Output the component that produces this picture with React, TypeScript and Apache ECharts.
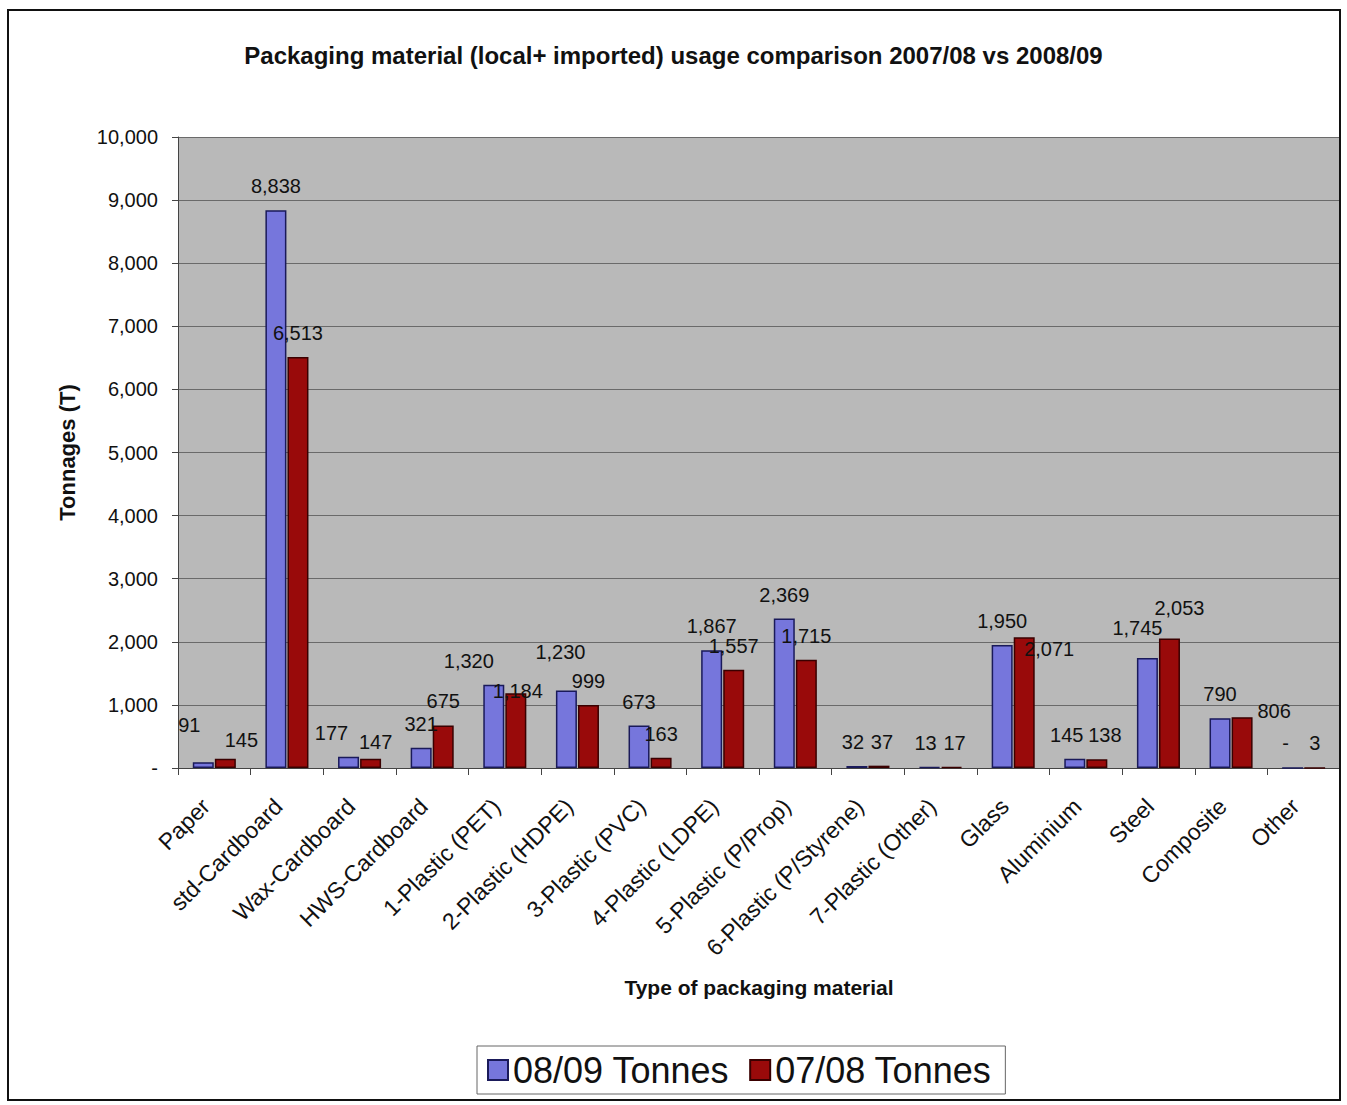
import React, { useEffect, useRef } from "react";
import * as echarts from "echarts";

const categories = [
  "Paper", "std-Cardboard", "Wax-Cardboard", "HWS-Cardboard", "1-Plastic (PET)",
  "2-Plastic (HDPE)", "3-Plastic (PVC)", "4-Plastic (LDPE)", "5-Plastic (P/Prop)",
  "6-Plastic (P/Styrene)", "7-Plastic (Other)", "Glass", "Aluminium", "Steel",
  "Composite", "Other",
];
const tonnes0809 = [91, 8838, 177, 321, 1320, 1230, 673, 1867, 2369, 32, 13, 1950, 145, 1745, 790, 0];
const tonnes0708 = [145, 6513, 147, 675, 1184, 999, 163, 1557, 1715, 37, 17, 2071, 138, 2053, 806, 3];
const seriesNames = ["08/09 Tonnes", "07/08 Tonnes"];

// label nudges (dx, dy) by category, mimicking the manually placed labels of the original
const nudge0809: Record<string, [number, number]> = {
  "Paper": [-14, -13],
  "Wax-Cardboard": [-17, 0],
  "1-Plastic (PET)": [-25, 0],
  "2-Plastic (HDPE)": [-6, -14],
  "6-Plastic (P/Styrene)": [-4, 0],
  "7-Plastic (Other)": [-4, 0],
  "Aluminium": [-8, 0],
  "Steel": [-10, -6],
  "Other": [-7, 0],
};
const nudge0708: Record<string, [number, number]> = {
  "Paper": [16, 5],
  "Wax-Cardboard": [5, 7],
  "1-Plastic (PET)": [2, 22],
  "6-Plastic (P/Styrene)": [3, 0],
  "7-Plastic (Other)": [3, 0],
  "Glass": [25, 36],
  "Aluminium": [8, 0],
  "Steel": [10, -6],
  "Composite": [32, 18],
};

const fmt = (v: number) => (v === 0 ? "-" : v.toLocaleString("en-US"));

export default function App() {
  const ref = useRef<HTMLDivElement>(null);
  useEffect(() => {
    const chart = echarts.init(ref.current!, null, { renderer: "svg" });
    const font = "Liberation Sans, Arial, sans-serif";
    const labelStyle = {
      show: true,
      position: "top",
      distance: 14,
      fontSize: 20,
      color: "#111",
      fontFamily: font,
      formatter: (p: any) => fmt(p.value),
    };
    const layoutFor = (nudges: Record<string, [number, number]>) => (p: any) => {
      const n = nudges[categories[p.dataIndex]];
      return n ? { dx: n[0], dy: n[1] } : {};
    };
    chart.setOption({
      animation: false,
      backgroundColor: "#ffffff",
      textStyle: { fontFamily: font },
      title: {
        text: "Packaging material (local+ imported) usage comparison 2007/08 vs 2008/09",
        left: "center",
        top: 38,
        textStyle: { fontSize: 24, fontWeight: "bold", color: "#111", fontFamily: font },
      },
      graphic: [
        {
          type: "rect",
          shape: { x: 8, y: 10, width: 1332, height: 1090 },
          style: { fill: "none", stroke: "#111", lineWidth: 2 },
          silent: true,
          z: 100,
        },
      ],
      legend: {
        top: 1046,
        left: 477,
        icon: "rect",
        itemWidth: 20,
        itemHeight: 20,
        itemGap: 20,
        padding: [6, 14, 6, 10],
        borderColor: "#666",
        borderWidth: 1,
        backgroundColor: "#fff",
        textStyle: { fontSize: 36, color: "#111", fontFamily: font },
        data: seriesNames,
      },
      grid: {
        left: 178,
        right: 7,
        top: 137,
        bottom: 337,
        show: true,
        backgroundColor: "#b9b9b9",
        borderWidth: 0,
      },
      xAxis: {
        type: "category",
        data: categories,
        name: "Type of packaging material",
        nameLocation: "middle",
        nameGap: 209,
        nameTextStyle: { fontSize: 21, fontWeight: "bold", color: "#111", fontFamily: font },
        axisLine: { lineStyle: { color: "#444", width: 1 } },
        axisTick: { show: true, length: 7, lineStyle: { color: "#444" } },
        axisLabel: {
          rotate: 45,
          fontSize: 23,
          color: "#111",
          margin: 26,
          interval: 0,
          padding: [0, 12, 0, 0],
        },
      },
      yAxis: {
        type: "value",
        min: 0,
        max: 10000,
        interval: 1000,
        name: "Tonnages (T)",
        nameLocation: "middle",
        nameGap: 100,
        nameTextStyle: { fontSize: 22, fontWeight: "bold", color: "#111", fontFamily: font },
        axisLine: { show: true, lineStyle: { color: "#444" } },
        axisTick: { show: true, length: 6, lineStyle: { color: "#444" } },
        axisLabel: {
          fontSize: 20,
          color: "#111",
          margin: 20,
          formatter: (v: number) => fmt(v),
        },
        splitLine: { lineStyle: { color: "#6a6a6a", width: 1 } },
      },
      series: [
        {
          name: seriesNames[0],
          type: "bar",
          data: tonnes0809,
          barWidth: 21,
          barGap: "5%",
          itemStyle: { color: "#7676dc", borderColor: "#1a1a5a", borderWidth: 1.5 },
          label: labelStyle,
          labelLayout: layoutFor(nudge0809),
        },
        {
          name: seriesNames[1],
          type: "bar",
          data: tonnes0708,
          barWidth: 21,
          itemStyle: { color: "#990a0a", borderColor: "#3a0000", borderWidth: 1.5 },
          label: labelStyle,
          labelLayout: layoutFor(nudge0708),
        },
      ],
    });
    return () => chart.dispose();
  }, []);
  return (
    <div
      ref={ref}
      style={{ position: "absolute", left: 0, top: 0, width: 1347, height: 1105 }}
    />
  );
}
